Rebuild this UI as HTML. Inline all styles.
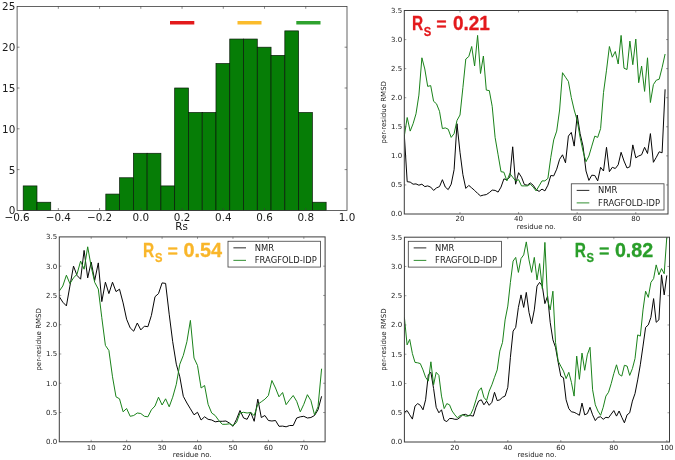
<!DOCTYPE html>
<html lang="en"><head><meta charset="utf-8"><title>Rs distribution and per-residue RMSD profiles</title>
<style>
html,body{margin:0;padding:0;background:#fff}
svg{display:block}
text{white-space:pre}
</style></head><body>
<svg width="675" height="460" viewBox="0 0 675 460">
<rect width="675" height="460" fill="#fff"/>
<g id="hist">
<rect x="23.20" y="185.92" width="13.77" height="24.48" fill="#067d06" stroke="#0a1a0a" stroke-width="0.7"/>
<rect x="36.97" y="202.24" width="13.77" height="8.16" fill="#067d06" stroke="#0a1a0a" stroke-width="0.7"/>
<rect x="105.82" y="194.08" width="13.77" height="16.32" fill="#067d06" stroke="#0a1a0a" stroke-width="0.7"/>
<rect x="119.59" y="177.76" width="13.77" height="32.64" fill="#067d06" stroke="#0a1a0a" stroke-width="0.7"/>
<rect x="133.36" y="153.28" width="13.77" height="57.12" fill="#067d06" stroke="#0a1a0a" stroke-width="0.7"/>
<rect x="147.13" y="153.28" width="13.77" height="57.12" fill="#067d06" stroke="#0a1a0a" stroke-width="0.7"/>
<rect x="160.90" y="185.92" width="13.77" height="24.48" fill="#067d06" stroke="#0a1a0a" stroke-width="0.7"/>
<rect x="174.67" y="88.00" width="13.77" height="122.40" fill="#067d06" stroke="#0a1a0a" stroke-width="0.7"/>
<rect x="188.44" y="112.48" width="13.77" height="97.92" fill="#067d06" stroke="#0a1a0a" stroke-width="0.7"/>
<rect x="202.21" y="112.48" width="13.77" height="97.92" fill="#067d06" stroke="#0a1a0a" stroke-width="0.7"/>
<rect x="215.98" y="63.52" width="13.77" height="146.88" fill="#067d06" stroke="#0a1a0a" stroke-width="0.7"/>
<rect x="229.75" y="39.04" width="13.77" height="171.36" fill="#067d06" stroke="#0a1a0a" stroke-width="0.7"/>
<rect x="243.52" y="39.04" width="13.77" height="171.36" fill="#067d06" stroke="#0a1a0a" stroke-width="0.7"/>
<rect x="257.29" y="47.20" width="13.77" height="163.20" fill="#067d06" stroke="#0a1a0a" stroke-width="0.7"/>
<rect x="271.06" y="55.36" width="13.77" height="155.04" fill="#067d06" stroke="#0a1a0a" stroke-width="0.7"/>
<rect x="284.83" y="30.88" width="13.77" height="179.52" fill="#067d06" stroke="#0a1a0a" stroke-width="0.7"/>
<rect x="298.60" y="112.48" width="13.77" height="97.92" fill="#067d06" stroke="#0a1a0a" stroke-width="0.7"/>
<rect x="312.37" y="202.24" width="13.77" height="8.16" fill="#067d06" stroke="#0a1a0a" stroke-width="0.7"/>
<rect x="17.1" y="6.4" width="329.90" height="204.00" fill="none" stroke="#3c3c3c" stroke-width="0.8"/>
<text transform="translate(17.10 220.50) scale(0.98 1)" x="0" y="0" font-size="10.6" text-anchor="middle" fill="#1a1a1a" font-family='"DejaVu Sans", "Liberation Sans", sans-serif' font-weight="normal">−0.6</text>
<path d="M58.34 210.4v-2.4M58.34 6.4v2.4" stroke="#3c3c3c" stroke-width="0.6"/>
<text transform="translate(58.34 220.50) scale(0.98 1)" x="0" y="0" font-size="10.6" text-anchor="middle" fill="#1a1a1a" font-family='"DejaVu Sans", "Liberation Sans", sans-serif' font-weight="normal">−0.4</text>
<path d="M99.57 210.4v-2.4M99.57 6.4v2.4" stroke="#3c3c3c" stroke-width="0.6"/>
<text transform="translate(99.57 220.50) scale(0.98 1)" x="0" y="0" font-size="10.6" text-anchor="middle" fill="#1a1a1a" font-family='"DejaVu Sans", "Liberation Sans", sans-serif' font-weight="normal">−0.2</text>
<path d="M140.81 210.4v-2.4M140.81 6.4v2.4" stroke="#3c3c3c" stroke-width="0.6"/>
<text transform="translate(140.81 220.50) scale(0.98 1)" x="0" y="0" font-size="10.6" text-anchor="middle" fill="#1a1a1a" font-family='"DejaVu Sans", "Liberation Sans", sans-serif' font-weight="normal">0.0</text>
<path d="M182.05 210.4v-2.4M182.05 6.4v2.4" stroke="#3c3c3c" stroke-width="0.6"/>
<text transform="translate(182.05 220.50) scale(0.98 1)" x="0" y="0" font-size="10.6" text-anchor="middle" fill="#1a1a1a" font-family='"DejaVu Sans", "Liberation Sans", sans-serif' font-weight="normal">0.2</text>
<path d="M223.29 210.4v-2.4M223.29 6.4v2.4" stroke="#3c3c3c" stroke-width="0.6"/>
<text transform="translate(223.29 220.50) scale(0.98 1)" x="0" y="0" font-size="10.6" text-anchor="middle" fill="#1a1a1a" font-family='"DejaVu Sans", "Liberation Sans", sans-serif' font-weight="normal">0.4</text>
<path d="M264.53 210.4v-2.4M264.53 6.4v2.4" stroke="#3c3c3c" stroke-width="0.6"/>
<text transform="translate(264.53 220.50) scale(0.98 1)" x="0" y="0" font-size="10.6" text-anchor="middle" fill="#1a1a1a" font-family='"DejaVu Sans", "Liberation Sans", sans-serif' font-weight="normal">0.6</text>
<path d="M305.76 210.4v-2.4M305.76 6.4v2.4" stroke="#3c3c3c" stroke-width="0.6"/>
<text transform="translate(305.76 220.50) scale(0.98 1)" x="0" y="0" font-size="10.6" text-anchor="middle" fill="#1a1a1a" font-family='"DejaVu Sans", "Liberation Sans", sans-serif' font-weight="normal">0.8</text>
<text transform="translate(347.00 220.50) scale(0.98 1)" x="0" y="0" font-size="10.6" text-anchor="middle" fill="#1a1a1a" font-family='"DejaVu Sans", "Liberation Sans", sans-serif' font-weight="normal">1.0</text>
<text transform="translate(15.30 214.30) scale(0.98 1)" x="0" y="0" font-size="10.6" text-anchor="end" fill="#1a1a1a" font-family='"DejaVu Sans", "Liberation Sans", sans-serif' font-weight="normal">0</text>
<path d="M17.1 169.60h2.4M347.0 169.60h-2.4" stroke="#3c3c3c" stroke-width="0.6"/>
<text transform="translate(15.30 173.50) scale(0.98 1)" x="0" y="0" font-size="10.6" text-anchor="end" fill="#1a1a1a" font-family='"DejaVu Sans", "Liberation Sans", sans-serif' font-weight="normal">5</text>
<path d="M17.1 128.80h2.4M347.0 128.80h-2.4" stroke="#3c3c3c" stroke-width="0.6"/>
<text transform="translate(15.30 132.70) scale(0.98 1)" x="0" y="0" font-size="10.6" text-anchor="end" fill="#1a1a1a" font-family='"DejaVu Sans", "Liberation Sans", sans-serif' font-weight="normal">10</text>
<path d="M17.1 88.00h2.4M347.0 88.00h-2.4" stroke="#3c3c3c" stroke-width="0.6"/>
<text transform="translate(15.30 91.90) scale(0.98 1)" x="0" y="0" font-size="10.6" text-anchor="end" fill="#1a1a1a" font-family='"DejaVu Sans", "Liberation Sans", sans-serif' font-weight="normal">15</text>
<path d="M17.1 47.20h2.4M347.0 47.20h-2.4" stroke="#3c3c3c" stroke-width="0.6"/>
<text transform="translate(15.30 51.10) scale(0.98 1)" x="0" y="0" font-size="10.6" text-anchor="end" fill="#1a1a1a" font-family='"DejaVu Sans", "Liberation Sans", sans-serif' font-weight="normal">20</text>
<text transform="translate(15.30 10.30) scale(0.98 1)" x="0" y="0" font-size="10.6" text-anchor="end" fill="#1a1a1a" font-family='"DejaVu Sans", "Liberation Sans", sans-serif' font-weight="normal">25</text>
<text transform="translate(181.60 229.80) scale(0.98 1)" x="0" y="0" font-size="10.6" text-anchor="middle" fill="#1a1a1a" font-family='"DejaVu Sans", "Liberation Sans", sans-serif' font-weight="normal">Rs</text>
<rect x="170" y="21" width="24.3" height="3.5" fill="#e31a1c"/>
<rect x="237.5" y="21" width="24" height="3.5" fill="#fbbc2c"/>
<rect x="296.3" y="21" width="24.2" height="3.5" fill="#2ea22e"/>
</g>
<g id="p2">
<clipPath id="cp2"><rect x="404.3" y="10.5" width="263.70" height="203.50"/></clipPath>
<polyline clip-path="url(#cp2)" points="404.3,134.9 407.2,181.7 410.2,182.1 413.1,184.2 416.0,183.9 418.9,185.2 421.9,184.2 424.8,186.6 427.7,185.9 430.7,187.1 433.6,190.4 436.5,187.9 439.5,186.6 442.4,179.7 445.3,187.1 448.2,189.6 451.2,184.2 454.1,169.7 457.0,123.7 460.0,152.3 462.9,174.7 465.8,188.4 468.8,185.4 471.7,187.9 474.6,190.4 477.6,193.4 480.5,195.9 483.4,195.1 486.3,194.6 489.3,192.6 492.2,190.1 495.1,190.4 498.1,192.1 501.0,187.1 503.9,178.9 506.9,179.7 509.8,177.2 512.7,146.8 515.6,184.2 518.6,172.7 521.5,177.2 524.4,184.6 527.4,185.2 530.3,182.9 533.2,185.2 536.1,189.6 539.1,191.4 542.0,189.1 544.9,190.9 547.9,185.2 550.8,175.5 553.7,175.9 556.7,169.2 559.6,159.3 562.5,154.8 565.5,162.8 568.4,136.1 571.3,132.4 574.2,146.1 577.2,115.0 580.1,133.6 583.0,146.1 586.0,171.0 588.9,180.4 591.8,175.2 594.8,175.5 597.7,180.9 600.6,167.3 603.5,171.0 606.5,147.3 609.4,171.7 612.3,167.3 615.3,168.5 618.2,164.8 621.1,152.3 624.0,161.0 627.0,168.0 629.9,166.7 632.8,144.9 635.8,157.8 638.7,156.0 641.6,154.8 644.6,147.3 647.5,153.5 650.4,133.6 653.4,162.3 656.3,157.3 659.2,151.8 662.1,152.8 665.1,89.3" fill="none" stroke="#050505" stroke-width="1" stroke-linejoin="round"/>
<polyline clip-path="url(#cp2)" points="404.3,136.1 407.2,117.5 410.2,131.1 413.1,123.7 416.0,113.8 418.9,95.1 421.9,57.8 424.8,69.0 427.7,86.4 430.7,85.6 433.6,101.3 436.5,103.8 439.5,111.3 442.4,128.6 445.3,127.9 448.2,129.2 451.2,137.4 454.1,133.6 457.0,120.4 460.0,115.0 462.9,87.6 465.8,59.0 468.8,56.5 471.7,46.5 474.6,66.0 477.6,35.4 480.5,73.5 483.4,56.0 486.3,90.1 489.3,90.6 492.2,106.3 495.1,137.4 498.1,154.8 501.0,171.7 503.9,172.2 506.9,180.9 509.8,173.5 512.7,177.2 515.6,180.9 518.6,179.7 521.5,185.9 524.4,185.9 527.4,185.9 530.3,184.2 533.2,187.1 536.1,190.9 539.1,185.9 542.0,180.9 544.9,180.9 547.9,178.4 550.8,157.3 553.7,139.9 556.7,131.1 559.6,110.0 562.5,72.7 565.5,77.2 568.4,81.4 571.3,97.6 574.2,110.0 577.2,120.4 580.1,137.4 583.0,151.0 586.0,161.7 588.9,156.0 591.8,146.1 594.8,136.1 597.7,137.4 600.6,128.6 603.5,92.6 606.5,70.2 609.4,46.5 612.3,57.2 615.3,51.5 618.2,64.0 621.1,35.4 624.0,68.2 627.0,69.5 629.9,41.1 632.8,64.7 635.8,39.1 638.7,82.7 641.6,66.0 644.6,91.4 647.5,57.8 650.4,102.5 653.4,84.6 656.3,80.2 659.2,79.2 662.1,67.7 665.1,54.0" fill="none" stroke="#1a821a" stroke-width="1" stroke-linejoin="round"/>
<rect x="404.3" y="10.5" width="263.70" height="203.50" fill="none" stroke="#3c3c3c" stroke-width="1"/>
<path d="M459.97 214.0v-2.0M459.97 10.5v2.0" stroke="#3c3c3c" stroke-width="0.5"/>
<text x="459.97" y="221.20" font-size="7.0" text-anchor="middle" fill="#1a1a1a" font-family='"DejaVu Sans", "Liberation Sans", sans-serif' font-weight="normal">20</text>
<path d="M518.57 214.0v-2.0M518.57 10.5v2.0" stroke="#3c3c3c" stroke-width="0.5"/>
<text x="518.57" y="221.20" font-size="7.0" text-anchor="middle" fill="#1a1a1a" font-family='"DejaVu Sans", "Liberation Sans", sans-serif' font-weight="normal">40</text>
<path d="M577.17 214.0v-2.0M577.17 10.5v2.0" stroke="#3c3c3c" stroke-width="0.5"/>
<text x="577.17" y="221.20" font-size="7.0" text-anchor="middle" fill="#1a1a1a" font-family='"DejaVu Sans", "Liberation Sans", sans-serif' font-weight="normal">60</text>
<path d="M635.77 214.0v-2.0M635.77 10.5v2.0" stroke="#3c3c3c" stroke-width="0.5"/>
<text x="635.77" y="221.20" font-size="7.0" text-anchor="middle" fill="#1a1a1a" font-family='"DejaVu Sans", "Liberation Sans", sans-serif' font-weight="normal">80</text>
<text x="402.10" y="216.40" font-size="7.0" text-anchor="end" fill="#1a1a1a" font-family='"DejaVu Sans", "Liberation Sans", sans-serif' font-weight="normal">0.0</text>
<path d="M404.3 184.93h2.0M668.0 184.93h-2.0" stroke="#3c3c3c" stroke-width="0.5"/>
<text x="402.10" y="187.33" font-size="7.0" text-anchor="end" fill="#1a1a1a" font-family='"DejaVu Sans", "Liberation Sans", sans-serif' font-weight="normal">0.5</text>
<path d="M404.3 155.86h2.0M668.0 155.86h-2.0" stroke="#3c3c3c" stroke-width="0.5"/>
<text x="402.10" y="158.26" font-size="7.0" text-anchor="end" fill="#1a1a1a" font-family='"DejaVu Sans", "Liberation Sans", sans-serif' font-weight="normal">1.0</text>
<path d="M404.3 126.79h2.0M668.0 126.79h-2.0" stroke="#3c3c3c" stroke-width="0.5"/>
<text x="402.10" y="129.19" font-size="7.0" text-anchor="end" fill="#1a1a1a" font-family='"DejaVu Sans", "Liberation Sans", sans-serif' font-weight="normal">1.5</text>
<path d="M404.3 97.71h2.0M668.0 97.71h-2.0" stroke="#3c3c3c" stroke-width="0.5"/>
<text x="402.10" y="100.11" font-size="7.0" text-anchor="end" fill="#1a1a1a" font-family='"DejaVu Sans", "Liberation Sans", sans-serif' font-weight="normal">2.0</text>
<path d="M404.3 68.64h2.0M668.0 68.64h-2.0" stroke="#3c3c3c" stroke-width="0.5"/>
<text x="402.10" y="71.04" font-size="7.0" text-anchor="end" fill="#1a1a1a" font-family='"DejaVu Sans", "Liberation Sans", sans-serif' font-weight="normal">2.5</text>
<path d="M404.3 39.57h2.0M668.0 39.57h-2.0" stroke="#3c3c3c" stroke-width="0.5"/>
<text x="402.10" y="41.97" font-size="7.0" text-anchor="end" fill="#1a1a1a" font-family='"DejaVu Sans", "Liberation Sans", sans-serif' font-weight="normal">3.0</text>
<text x="402.10" y="12.90" font-size="7.0" text-anchor="end" fill="#1a1a1a" font-family='"DejaVu Sans", "Liberation Sans", sans-serif' font-weight="normal">3.5</text>
<text x="536.15" y="229.00" font-size="7.0" text-anchor="middle" fill="#1a1a1a" font-family='"DejaVu Sans", "Liberation Sans", sans-serif' font-weight="normal">residue no.</text>
<text transform="translate(386.30 112.25) rotate(-90)" font-size="7.0" text-anchor="middle" fill="#1a1a1a" font-family='"DejaVu Sans", "Liberation Sans", sans-serif'>per-residue RMSD</text>
<rect x="571.3" y="183.8" width="92.7" height="26.2" fill="#fff" stroke="#3c3c3c" stroke-width="0.8"/>
<path d="M576.70 190.40h12.6" stroke="#111" stroke-width="0.9"/>
<path d="M576.70 202.90h12.6" stroke="#1a821a" stroke-width="0.9"/>
<text x="598.10" y="193.40" font-size="8.4" text-anchor="start" fill="#1a1a1a" font-family='"DejaVu Sans", "Liberation Sans", sans-serif' font-weight="normal">NMR</text>
<text x="598.10" y="205.90" font-size="8.4" text-anchor="start" fill="#1a1a1a" font-family='"DejaVu Sans", "Liberation Sans", sans-serif' font-weight="normal">FRAGFOLD-IDP</text>
<text transform="translate(412.00 30.00) scale(0.8 1)" x="0" y="0" font-size="19.3" text-anchor="start" fill="#e3191c" font-family='"Liberation Sans", "DejaVu Sans", sans-serif' font-weight="bold" stroke="#e3191c" stroke-width="0.3" stroke-linejoin="round">R</text>
<text transform="translate(423.80 35.70) scale(0.92 1)" x="0" y="0" font-size="12.159" text-anchor="start" fill="#e3191c" font-family='"Liberation Sans", "DejaVu Sans", sans-serif' font-weight="bold" stroke="#e3191c" stroke-width="0.3" stroke-linejoin="round">S</text>
<text transform="translate(436.20 31.20) scale(0.93 1)" x="0" y="0" font-size="19.3" text-anchor="start" fill="#e3191c" font-family='"Liberation Sans", "DejaVu Sans", sans-serif' font-weight="normal" stroke="#e3191c" stroke-width="0.5" stroke-linejoin="round">=</text>
<text transform="translate(452.90 30.00) scale(0.985 1)" x="0" y="0" font-size="19.3" text-anchor="start" fill="#e3191c" font-family='"Liberation Sans", "DejaVu Sans", sans-serif' font-weight="bold" stroke="#e3191c" stroke-width="0.3" stroke-linejoin="round">0.21</text>
</g>
<g id="p3">
<clipPath id="cp3"><rect x="59.3" y="236.9" width="265.80" height="204.90"/></clipPath>
<polyline clip-path="url(#cp3)" points="59.3,296.7 62.8,302.2 66.4,305.9 69.9,286.1 73.5,266.1 77.0,275.4 80.6,279.2 84.1,250.4 87.7,277.9 91.2,262.1 94.7,280.4 98.3,262.9 101.8,301.6 105.4,282.2 108.9,293.6 112.5,282.2 116.0,291.6 119.5,289.2 123.1,302.9 126.6,319.2 130.2,327.9 133.7,331.2 137.3,323.0 140.8,329.9 144.4,326.2 147.9,326.7 151.4,315.4 155.0,296.7 158.5,293.6 162.1,282.9 165.6,283.4 169.2,314.2 172.7,341.7 176.3,364.2 179.8,376.8 183.3,396.3 186.9,403.0 190.4,408.8 194.0,414.8 197.5,412.3 201.1,420.0 204.6,416.8 208.1,419.3 211.7,420.0 215.2,421.8 218.8,421.3 222.3,421.3 225.9,421.0 229.4,423.0 233.0,426.3 236.5,419.3 240.0,410.5 243.6,418.0 247.1,419.3 250.7,412.3 254.2,421.3 257.8,399.2 261.3,417.5 264.9,415.5 268.4,420.5 271.9,421.0 275.5,420.5 279.0,426.3 282.6,426.1 286.1,426.8 289.7,425.5 293.2,425.5 296.7,418.0 300.3,416.8 303.8,416.3 307.4,418.0 310.9,417.5 314.5,415.5 318.0,409.8 321.6,396.3" fill="none" stroke="#050505" stroke-width="1" stroke-linejoin="round"/>
<polyline clip-path="url(#cp3)" points="59.3,291.0 62.8,286.0 66.4,275.2 69.9,283.6 73.5,277.9 77.0,274.2 80.6,261.1 84.1,269.2 87.7,246.8 91.2,266.7 94.7,282.3 98.3,289.1 101.8,317.7 105.4,345.4 108.9,350.5 112.5,376.8 116.0,396.8 119.5,398.8 123.1,411.8 126.6,408.5 130.2,416.3 133.7,415.5 137.3,413.0 140.8,413.5 144.4,416.3 147.9,416.8 151.4,409.8 155.0,406.0 158.5,397.2 162.1,405.0 165.6,398.8 169.2,406.8 172.7,397.2 176.3,384.3 179.8,364.2 183.3,355.4 186.9,341.7 190.4,320.4 194.0,358.0 197.5,365.5 201.1,388.0 204.6,385.5 208.1,404.3 211.7,413.0 215.2,415.5 218.8,420.5 222.3,424.3 225.9,424.3 229.4,423.8 233.0,425.5 236.5,422.5 240.0,413.0 243.6,412.3 247.1,413.0 250.7,412.5 254.2,415.5 257.8,404.3 261.3,401.8 264.9,399.2 268.4,395.5 271.9,380.5 275.5,388.0 279.0,396.8 282.6,392.5 286.1,404.7 289.7,399.8 293.2,395.5 296.7,401.3 300.3,411.8 303.8,404.3 307.4,394.7 310.9,400.5 314.5,414.8 318.0,406.8 321.6,368.7" fill="none" stroke="#1a821a" stroke-width="1" stroke-linejoin="round"/>
<rect x="59.3" y="236.9" width="265.80" height="204.90" fill="none" stroke="#3c3c3c" stroke-width="1"/>
<path d="M91.20 441.8v-2.0M91.20 236.9v2.0" stroke="#3c3c3c" stroke-width="0.5"/>
<text x="91.20" y="449.60" font-size="7.0" text-anchor="middle" fill="#1a1a1a" font-family='"DejaVu Sans", "Liberation Sans", sans-serif' font-weight="normal">10</text>
<path d="M126.64 441.8v-2.0M126.64 236.9v2.0" stroke="#3c3c3c" stroke-width="0.5"/>
<text x="126.64" y="449.60" font-size="7.0" text-anchor="middle" fill="#1a1a1a" font-family='"DejaVu Sans", "Liberation Sans", sans-serif' font-weight="normal">20</text>
<path d="M162.08 441.8v-2.0M162.08 236.9v2.0" stroke="#3c3c3c" stroke-width="0.5"/>
<text x="162.08" y="449.60" font-size="7.0" text-anchor="middle" fill="#1a1a1a" font-family='"DejaVu Sans", "Liberation Sans", sans-serif' font-weight="normal">30</text>
<path d="M197.52 441.8v-2.0M197.52 236.9v2.0" stroke="#3c3c3c" stroke-width="0.5"/>
<text x="197.52" y="449.60" font-size="7.0" text-anchor="middle" fill="#1a1a1a" font-family='"DejaVu Sans", "Liberation Sans", sans-serif' font-weight="normal">40</text>
<path d="M232.96 441.8v-2.0M232.96 236.9v2.0" stroke="#3c3c3c" stroke-width="0.5"/>
<text x="232.96" y="449.60" font-size="7.0" text-anchor="middle" fill="#1a1a1a" font-family='"DejaVu Sans", "Liberation Sans", sans-serif' font-weight="normal">50</text>
<path d="M268.40 441.8v-2.0M268.40 236.9v2.0" stroke="#3c3c3c" stroke-width="0.5"/>
<text x="268.40" y="449.60" font-size="7.0" text-anchor="middle" fill="#1a1a1a" font-family='"DejaVu Sans", "Liberation Sans", sans-serif' font-weight="normal">60</text>
<path d="M303.84 441.8v-2.0M303.84 236.9v2.0" stroke="#3c3c3c" stroke-width="0.5"/>
<text x="303.84" y="449.60" font-size="7.0" text-anchor="middle" fill="#1a1a1a" font-family='"DejaVu Sans", "Liberation Sans", sans-serif' font-weight="normal">70</text>
<text x="57.10" y="444.20" font-size="7.0" text-anchor="end" fill="#1a1a1a" font-family='"DejaVu Sans", "Liberation Sans", sans-serif' font-weight="normal">0.0</text>
<path d="M59.3 412.53h2.0M325.1 412.53h-2.0" stroke="#3c3c3c" stroke-width="0.5"/>
<text x="57.10" y="414.93" font-size="7.0" text-anchor="end" fill="#1a1a1a" font-family='"DejaVu Sans", "Liberation Sans", sans-serif' font-weight="normal">0.5</text>
<path d="M59.3 383.26h2.0M325.1 383.26h-2.0" stroke="#3c3c3c" stroke-width="0.5"/>
<text x="57.10" y="385.66" font-size="7.0" text-anchor="end" fill="#1a1a1a" font-family='"DejaVu Sans", "Liberation Sans", sans-serif' font-weight="normal">1.0</text>
<path d="M59.3 353.99h2.0M325.1 353.99h-2.0" stroke="#3c3c3c" stroke-width="0.5"/>
<text x="57.10" y="356.39" font-size="7.0" text-anchor="end" fill="#1a1a1a" font-family='"DejaVu Sans", "Liberation Sans", sans-serif' font-weight="normal">1.5</text>
<path d="M59.3 324.71h2.0M325.1 324.71h-2.0" stroke="#3c3c3c" stroke-width="0.5"/>
<text x="57.10" y="327.11" font-size="7.0" text-anchor="end" fill="#1a1a1a" font-family='"DejaVu Sans", "Liberation Sans", sans-serif' font-weight="normal">2.0</text>
<path d="M59.3 295.44h2.0M325.1 295.44h-2.0" stroke="#3c3c3c" stroke-width="0.5"/>
<text x="57.10" y="297.84" font-size="7.0" text-anchor="end" fill="#1a1a1a" font-family='"DejaVu Sans", "Liberation Sans", sans-serif' font-weight="normal">2.5</text>
<path d="M59.3 266.17h2.0M325.1 266.17h-2.0" stroke="#3c3c3c" stroke-width="0.5"/>
<text x="57.10" y="268.57" font-size="7.0" text-anchor="end" fill="#1a1a1a" font-family='"DejaVu Sans", "Liberation Sans", sans-serif' font-weight="normal">3.0</text>
<text x="57.10" y="239.30" font-size="7.0" text-anchor="end" fill="#1a1a1a" font-family='"DejaVu Sans", "Liberation Sans", sans-serif' font-weight="normal">3.5</text>
<text x="192.20" y="456.90" font-size="7.0" text-anchor="middle" fill="#1a1a1a" font-family='"DejaVu Sans", "Liberation Sans", sans-serif' font-weight="normal">residue no.</text>
<text transform="translate(41.30 339.35) rotate(-90)" font-size="7.0" text-anchor="middle" fill="#1a1a1a" font-family='"DejaVu Sans", "Liberation Sans", sans-serif'>per-residue RMSD</text>
<rect x="228.0" y="241.25" width="92.4" height="25.8" fill="#fff" stroke="#3c3c3c" stroke-width="0.8"/>
<path d="M233.40 247.85h12.6" stroke="#111" stroke-width="0.9"/>
<path d="M233.40 260.35h12.6" stroke="#1a821a" stroke-width="0.9"/>
<text x="254.80" y="250.85" font-size="8.4" text-anchor="start" fill="#1a1a1a" font-family='"DejaVu Sans", "Liberation Sans", sans-serif' font-weight="normal">NMR</text>
<text x="254.80" y="263.35" font-size="8.4" text-anchor="start" fill="#1a1a1a" font-family='"DejaVu Sans", "Liberation Sans", sans-serif' font-weight="normal">FRAGFOLD-IDP</text>
<text transform="translate(143.00 256.70) scale(0.8 1)" x="0" y="0" font-size="19.3" text-anchor="start" fill="#f9b62a" font-family='"Liberation Sans", "DejaVu Sans", sans-serif' font-weight="bold" stroke="#f9b62a" stroke-width="0.3" stroke-linejoin="round">R</text>
<text transform="translate(154.90 262.40) scale(0.92 1)" x="0" y="0" font-size="12.159" text-anchor="start" fill="#f9b62a" font-family='"Liberation Sans", "DejaVu Sans", sans-serif' font-weight="bold" stroke="#f9b62a" stroke-width="0.3" stroke-linejoin="round">S</text>
<text transform="translate(167.40 257.90) scale(0.93 1)" x="0" y="0" font-size="19.3" text-anchor="start" fill="#f9b62a" font-family='"Liberation Sans", "DejaVu Sans", sans-serif' font-weight="normal" stroke="#f9b62a" stroke-width="0.5" stroke-linejoin="round">=</text>
<text transform="translate(183.50 256.70) scale(1.03 1)" x="0" y="0" font-size="19.3" text-anchor="start" fill="#f9b62a" font-family='"Liberation Sans", "DejaVu Sans", sans-serif' font-weight="bold" stroke="#f9b62a" stroke-width="0.3" stroke-linejoin="round">0.54</text>
</g>
<g id="p4">
<clipPath id="cp4"><rect x="404.4" y="237.2" width="265.10" height="204.80"/></clipPath>
<polyline clip-path="url(#cp4)" points="404.4,412.3 407.1,410.6 409.7,414.8 412.4,419.1 415.0,406.1 417.7,403.6 420.3,405.3 423.0,409.8 425.6,399.8 428.3,374.8 430.9,372.3 433.6,388.6 436.2,407.3 438.9,412.8 441.5,409.8 444.2,420.3 446.8,421.6 449.5,418.5 452.1,418.5 454.8,419.3 457.4,419.3 460.1,417.3 462.7,414.8 465.4,414.3 468.0,415.6 470.7,415.6 473.3,416.1 476.0,407.3 478.6,401.1 481.3,399.8 483.9,404.8 486.6,401.1 489.2,405.3 491.9,402.3 494.5,392.3 497.2,400.6 499.8,399.8 502.5,397.3 505.1,396.1 507.8,387.3 510.4,357.3 513.1,331.1 515.7,327.4 518.4,307.4 521.0,294.9 523.7,307.4 526.3,292.4 529.0,312.4 531.6,323.6 534.3,309.9 537.0,286.1 539.6,282.4 542.3,286.1 544.9,303.6 547.6,296.1 550.2,322.3 552.9,339.8 555.5,347.3 558.2,362.4 560.8,376.1 563.5,377.8 566.1,399.8 568.8,408.6 571.4,411.8 574.1,412.3 576.7,413.6 579.4,415.3 582.0,403.1 584.7,414.8 587.3,413.6 590.0,407.3 592.6,414.8 595.3,420.6 597.9,417.3 600.6,416.8 603.2,419.3 605.9,417.3 608.5,417.8 611.2,414.1 613.8,410.6 616.5,416.1 619.1,411.0 621.8,417.3 624.4,422.8 627.1,414.8 629.7,412.8 632.4,401.1 635.0,393.6 637.7,379.9 640.3,364.8 643.0,346.1 645.6,327.4 648.3,324.9 650.9,317.4 653.6,298.6 656.2,322.3 658.9,319.9 661.5,274.9 664.2,294.9 666.8,275.4" fill="none" stroke="#050505" stroke-width="1" stroke-linejoin="round"/>
<polyline clip-path="url(#cp4)" points="404.4,317.4 407.1,344.9 409.7,339.4 412.4,353.6 415.0,362.4 417.7,362.8 420.3,363.6 423.0,369.9 425.6,377.3 428.3,381.1 430.9,361.8 433.6,384.8 436.2,372.3 438.9,375.4 441.5,396.1 444.2,408.6 446.8,403.6 449.5,404.8 452.1,411.0 454.8,414.8 457.4,417.8 460.1,415.6 462.7,414.8 465.4,416.1 468.0,416.1 470.7,414.3 473.3,408.6 476.0,399.8 478.6,391.1 481.3,387.8 483.9,397.3 486.6,400.6 489.2,391.1 491.9,384.8 494.5,377.3 497.2,369.9 499.8,351.1 502.5,342.4 505.1,319.9 507.8,306.1 510.4,282.4 513.1,261.1 515.7,257.4 518.4,272.4 521.0,258.6 523.7,254.9 526.3,241.9 529.0,259.9 531.6,272.4 534.3,257.4 537.0,279.9 539.6,263.6 542.3,288.6 544.9,242.4 547.6,299.9 550.2,309.9 552.9,291.2 555.5,342.4 558.2,361.1 560.8,366.1 563.5,371.1 566.1,378.6 568.8,372.3 571.4,382.3 574.1,396.1 576.7,356.1 579.4,379.3 582.0,353.1 584.7,370.3 587.3,354.8 590.0,347.3 592.6,389.8 595.3,404.8 597.9,411.0 600.6,415.3 603.2,407.3 605.9,396.1 608.5,392.3 611.2,383.6 613.8,373.6 616.5,364.8 619.1,374.4 621.8,376.1 624.4,365.3 627.1,366.1 629.7,375.4 632.4,368.6 635.0,358.6 637.7,334.9 640.3,336.1 643.0,309.9 645.6,291.2 648.3,297.4 650.9,282.4 653.6,278.6 656.2,264.9 658.9,274.9 661.5,268.6 664.2,273.7 666.8,237.1" fill="none" stroke="#1a821a" stroke-width="1" stroke-linejoin="round"/>
<rect x="404.4" y="237.2" width="265.10" height="204.80" fill="none" stroke="#3c3c3c" stroke-width="1"/>
<path d="M454.77 442.0v-2.0M454.77 237.2v2.0" stroke="#3c3c3c" stroke-width="0.5"/>
<text x="454.77" y="449.80" font-size="7.0" text-anchor="middle" fill="#1a1a1a" font-family='"DejaVu Sans", "Liberation Sans", sans-serif' font-weight="normal">20</text>
<path d="M507.79 442.0v-2.0M507.79 237.2v2.0" stroke="#3c3c3c" stroke-width="0.5"/>
<text x="507.79" y="449.80" font-size="7.0" text-anchor="middle" fill="#1a1a1a" font-family='"DejaVu Sans", "Liberation Sans", sans-serif' font-weight="normal">40</text>
<path d="M560.81 442.0v-2.0M560.81 237.2v2.0" stroke="#3c3c3c" stroke-width="0.5"/>
<text x="560.81" y="449.80" font-size="7.0" text-anchor="middle" fill="#1a1a1a" font-family='"DejaVu Sans", "Liberation Sans", sans-serif' font-weight="normal">60</text>
<path d="M613.83 442.0v-2.0M613.83 237.2v2.0" stroke="#3c3c3c" stroke-width="0.5"/>
<text x="613.83" y="449.80" font-size="7.0" text-anchor="middle" fill="#1a1a1a" font-family='"DejaVu Sans", "Liberation Sans", sans-serif' font-weight="normal">80</text>
<path d="M666.85 442.0v-2.0M666.85 237.2v2.0" stroke="#3c3c3c" stroke-width="0.5"/>
<text x="666.85" y="449.80" font-size="7.0" text-anchor="middle" fill="#1a1a1a" font-family='"DejaVu Sans", "Liberation Sans", sans-serif' font-weight="normal">100</text>
<text x="402.20" y="444.40" font-size="7.0" text-anchor="end" fill="#1a1a1a" font-family='"DejaVu Sans", "Liberation Sans", sans-serif' font-weight="normal">0.0</text>
<path d="M404.4 412.74h2.0M669.5 412.74h-2.0" stroke="#3c3c3c" stroke-width="0.5"/>
<text x="402.20" y="415.14" font-size="7.0" text-anchor="end" fill="#1a1a1a" font-family='"DejaVu Sans", "Liberation Sans", sans-serif' font-weight="normal">0.5</text>
<path d="M404.4 383.49h2.0M669.5 383.49h-2.0" stroke="#3c3c3c" stroke-width="0.5"/>
<text x="402.20" y="385.89" font-size="7.0" text-anchor="end" fill="#1a1a1a" font-family='"DejaVu Sans", "Liberation Sans", sans-serif' font-weight="normal">1.0</text>
<path d="M404.4 354.23h2.0M669.5 354.23h-2.0" stroke="#3c3c3c" stroke-width="0.5"/>
<text x="402.20" y="356.63" font-size="7.0" text-anchor="end" fill="#1a1a1a" font-family='"DejaVu Sans", "Liberation Sans", sans-serif' font-weight="normal">1.5</text>
<path d="M404.4 324.97h2.0M669.5 324.97h-2.0" stroke="#3c3c3c" stroke-width="0.5"/>
<text x="402.20" y="327.37" font-size="7.0" text-anchor="end" fill="#1a1a1a" font-family='"DejaVu Sans", "Liberation Sans", sans-serif' font-weight="normal">2.0</text>
<path d="M404.4 295.71h2.0M669.5 295.71h-2.0" stroke="#3c3c3c" stroke-width="0.5"/>
<text x="402.20" y="298.11" font-size="7.0" text-anchor="end" fill="#1a1a1a" font-family='"DejaVu Sans", "Liberation Sans", sans-serif' font-weight="normal">2.5</text>
<path d="M404.4 266.46h2.0M669.5 266.46h-2.0" stroke="#3c3c3c" stroke-width="0.5"/>
<text x="402.20" y="268.86" font-size="7.0" text-anchor="end" fill="#1a1a1a" font-family='"DejaVu Sans", "Liberation Sans", sans-serif' font-weight="normal">3.0</text>
<text x="402.20" y="239.60" font-size="7.0" text-anchor="end" fill="#1a1a1a" font-family='"DejaVu Sans", "Liberation Sans", sans-serif' font-weight="normal">3.5</text>
<text x="536.95" y="457.10" font-size="7.0" text-anchor="middle" fill="#1a1a1a" font-family='"DejaVu Sans", "Liberation Sans", sans-serif' font-weight="normal">residue no.</text>
<text transform="translate(386.40 339.60) rotate(-90)" font-size="7.0" text-anchor="middle" fill="#1a1a1a" font-family='"DejaVu Sans", "Liberation Sans", sans-serif'>per-residue RMSD</text>
<rect x="408.3" y="241.3" width="93.2" height="25.8" fill="#fff" stroke="#3c3c3c" stroke-width="0.8"/>
<path d="M413.70 247.90h12.6" stroke="#111" stroke-width="0.9"/>
<path d="M413.70 260.40h12.6" stroke="#1a821a" stroke-width="0.9"/>
<text x="435.10" y="250.90" font-size="8.4" text-anchor="start" fill="#1a1a1a" font-family='"DejaVu Sans", "Liberation Sans", sans-serif' font-weight="normal">NMR</text>
<text x="435.10" y="263.40" font-size="8.4" text-anchor="start" fill="#1a1a1a" font-family='"DejaVu Sans", "Liberation Sans", sans-serif' font-weight="normal">FRAGFOLD-IDP</text>
<text transform="translate(574.70 256.70) scale(0.8 1)" x="0" y="0" font-size="19.3" text-anchor="start" fill="#2a9e2a" font-family='"Liberation Sans", "DejaVu Sans", sans-serif' font-weight="bold" stroke="#2a9e2a" stroke-width="0.3" stroke-linejoin="round">R</text>
<text transform="translate(586.40 262.40) scale(0.92 1)" x="0" y="0" font-size="12.159" text-anchor="start" fill="#2a9e2a" font-family='"Liberation Sans", "DejaVu Sans", sans-serif' font-weight="bold" stroke="#2a9e2a" stroke-width="0.3" stroke-linejoin="round">S</text>
<text transform="translate(598.90 257.90) scale(0.93 1)" x="0" y="0" font-size="19.3" text-anchor="start" fill="#2a9e2a" font-family='"Liberation Sans", "DejaVu Sans", sans-serif' font-weight="normal" stroke="#2a9e2a" stroke-width="0.5" stroke-linejoin="round">=</text>
<text transform="translate(614.90 256.70) scale(1.02 1)" x="0" y="0" font-size="19.3" text-anchor="start" fill="#2a9e2a" font-family='"Liberation Sans", "DejaVu Sans", sans-serif' font-weight="bold" stroke="#2a9e2a" stroke-width="0.3" stroke-linejoin="round">0.82</text>
</g>
</svg>
</body></html>
